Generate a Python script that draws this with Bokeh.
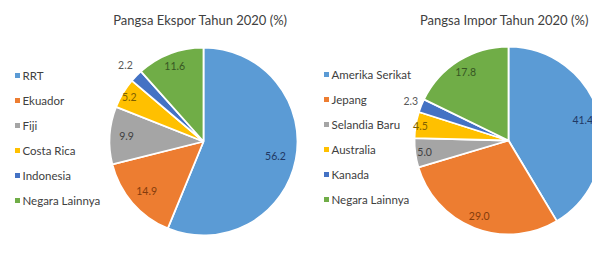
import numpy as np
from bokeh.plotting import figure
from bokeh.models import Range1d
from bokeh.core.properties import value
from bokeh.embed import file_html
from bokeh.resources import INLINE

# ---- data ----
export_title = "Pangsa Ekspor Tahun 2020 (%)"
export_countries = ["RRT", "Ekuador", "Fiji", "Costa Rica", "Indonesia", "Negara Lainnya"]
export_values = [56.2, 14.9, 9.9, 5.2, 2.2, 11.6]

import_title = "Pangsa Impor Tahun 2020 (%)"
import_countries = ["Amerika Serikat", "Jepang", "Selandia Baru", "Australia", "Kanada", "Negara Lainnya"]
import_values = [41.4, 29.0, 5.0, 4.5, 2.3, 17.8]

# ---- styles ----
slice_colors = ["#5B9BD5", "#ED7D31", "#A5A5A5", "#FFC000", "#4472C4", "#70AD47"]
label_colors = ["#1F3864", "#843C0C", "#404040", "#7F6000", "#595959", "#375623"]
FONT = value("Lato")

W, H = 592, 257
p = figure(width=W, height=H, output_backend="svg", toolbar_location=None,
           x_range=Range1d(0, W), y_range=Range1d(-H, 0),
           x_axis_location=None, y_axis_location=None, min_border=0)
p.grid.visible = False
p.outline_line_color = None
p.background_fill_color = "white"


def draw_pie(cx, cy, r, values, label_k, title_x, title):
    vals = np.array(values, dtype=float)
    frac = vals / vals.sum()
    ends = np.cumsum(frac)
    starts = ends - frac
    start_angle = np.pi / 2 - 2 * np.pi * ends
    end_angle = np.pi / 2 - 2 * np.pi * starts
    p.wedge(x=[cx] * len(vals), y=[-cy] * len(vals), radius=r,
            start_angle=list(start_angle), end_angle=list(end_angle),
            direction="anticlock", fill_color=slice_colors,
            line_color="white", line_width=1.8)
    mid = (starts + ends) / 2
    ang = np.pi / 2 - 2 * np.pi * mid
    k = np.array(label_k)
    lx = cx + k * r * np.cos(ang)
    ly = -cy + k * r * np.sin(ang)
    p.text(x=list(lx), y=list(ly), text=["%.1f" % v for v in vals],
           text_color=label_colors, text_font=FONT, text_font_size="10.5px",
           text_align="center", text_baseline="middle")
    p.text(x=[title_x], y=[-19], text=[title], text_color="#404040",
           text_font=FONT, text_font_size="13px",
           text_align="center", text_baseline="middle")


def draw_legend(x0, y0, names):
    ys = [-(y0 + 25 * i) for i in range(len(names))]
    p.scatter(x=[x0] * len(names), y=ys, marker="square", size=5,
              fill_color=slice_colors, line_color=None)
    p.text(x=[x0 + 5] * len(names), y=ys, text=names, text_color="#404040",
           text_font=FONT, text_font_size="11.5px",
           text_align="left", text_baseline="middle")


draw_pie(203, 141, 94, export_values, [0.78, 0.8, 0.82, 0.92, 1.16, 0.86], 200, export_title)
draw_legend(17, 75, export_countries)

draw_pie(508, 140, 94, import_values, [0.82, 0.86, 0.9, 0.95, 1.12, 0.86], 504, import_title)
draw_legend(326, 74, import_countries)

open("out.html", "w").write(file_html(p, INLINE))
